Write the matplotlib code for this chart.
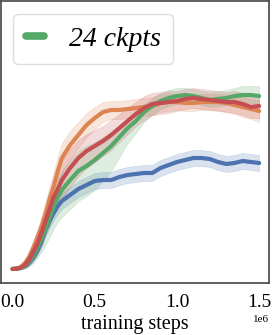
import matplotlib.pyplot as plt
import numpy as np

# training steps and mean return per run
steps = np.array([0, .025, .05, .075, .1, .125, .15, .175, .2, .225, .25, .275, .3,
                  .35, .4, .45, .5, .55, .6, .65, .7, .75, .8, .85, .9, .95,
                  1.0, 1.05, 1.1, 1.15, 1.2, 1.25, 1.3, 1.35, 1.4, 1.45, 1.5]) * 1e6

orange = [0, .005, .02, .06, .12, .21, .31, .42, .55, .70, .83, .98, 1.11,
          1.24, 1.34, 1.44, 1.51, 1.57, 1.59, 1.59, 1.60, 1.61, 1.62, 1.63, 1.66, 1.67,
          1.67, 1.66, 1.66, 1.67, 1.67, 1.67, 1.66, 1.64, 1.62, 1.60, 1.58]
red = [0, .003, .015, .04, .09, .17, .25, .36, .48, .60, .72, .80, .89,
       1.01, 1.11, 1.18, 1.23, 1.28, 1.34, 1.41, 1.48, 1.55, 1.61, 1.65, 1.66, 1.67,
       1.68, 1.70, 1.71, 1.70, 1.69, 1.68, 1.67, 1.67, 1.65, 1.62, 1.63]
green = [0, .002, .01, .03, .07, .13, .21, .30, .40, .51, .62, .72, .79,
         .89, .98, 1.03, 1.09, 1.16, 1.23, 1.32, 1.41, 1.48, 1.57, 1.63, 1.68, 1.71,
         1.73, 1.74, 1.73, 1.71, 1.69, 1.70, 1.71, 1.73, 1.74, 1.74, 1.73]
blue = [0, .002, .01, .025, .06, .11, .18, .27, .39, .48, .56, .63, .68,
        .74, .80, .84, .88, .89, .89, .92, .94, .95, .96, .96, 1.01, 1.04,
        1.07, 1.09, 1.11, 1.11, 1.10, 1.07, 1.05, 1.06, 1.08, 1.07, 1.06]

# spread of the shaded bands (below / above the mean)
orange_lo = [0, .005, .01, .02, .04, .06, .08, .10, .12, .13, .14, .15, .15,
             .14, .13, .12, .11, .10, .09, .09, .09, .09, .09, .09, .09, .09,
             .08, .08, .08, .08, .08, .08, .09, .09, .10, .10, .11]
orange_hi = orange_lo
red_lo = [0, .005, .01, .03, .05, .08, .10, .12, .14, .16, .17, .18, .19,
          .19, .18, .17, .16, .15, .15, .14, .13, .12, .12, .11, .11, .11,
          .10, .10, .10, .10, .10, .10, .10, .11, .11, .11, .12]
red_hi = red_lo
green_lo = [0, .005, .01, .02, .04, .07, .10, .13, .16, .19, .22, .25, .27,
            .29, .30, .30, .30, .28, .25, .20, .15, .12, .10, .09, .08, .08,
            .08, .07, .07, .07, .07, .07, .07, .07, .07, .08, .08]
green_hi = [0, .005, .01, .02, .04, .06, .08, .10, .12, .14, .16, .18, .19,
            .20, .20, .20, .18, .16, .14, .12, .10, .09, .08, .08, .08, .08,
            .08, .07, .07, .07, .08, .08, .08, .08, .09, .09, .10]
blue_lo = [0, .005, .01, .02, .03, .04, .05, .06, .06, .07, .07, .08, .08] + [.08] * 24
blue_hi = blue_lo

x_ticks = [0, 0.5e6, 1.0e6, 1.5e6]

plt.rcParams['font.family'] = ['Liberation Serif', 'DejaVu Serif']

fig = plt.figure(figsize=(2.72, 3.35), dpi=100)
ax = fig.add_axes([0.004, 52 / 335, 0.985, 282 / 335])

series = [
    (blue, blue_lo, blue_hi, '#4C72B0', None),
    (orange, orange_lo, orange_hi, '#DD8452', None),
    (green, green_lo, green_hi, '#55A868', '24 ckpts'),
    (red, red_lo, red_hi, '#C44E52', None),
]
for mean, lo, hi, col, lab in series:
    m = np.array(mean)
    ax.fill_between(steps, m - np.array(lo), m + np.array(hi), color=col, alpha=0.2, lw=0.5)
for mean, lo, hi, col, lab in series:
    ax.plot(steps, mean, color=col, lw=3, label=lab, solid_capstyle='round')

ax.set_xlim(-0.07e6, 1.56e6)
ax.set_ylim(-0.14, 2.68)
ax.set_xticks(x_ticks)
ax.set_yticks([])
ax.tick_params(axis='x', length=0, pad=8, labelsize=14)
ax.xaxis.get_offset_text().set_fontsize(8)
ax.set_xlabel('training steps', fontsize=14.5, labelpad=3)
for s in ax.spines.values():
    s.set_color('#444444')
    s.set_linewidth(1.2)

leg = ax.legend(loc='upper left', bbox_to_anchor=(0.045, 0.955), fontsize=20,
                handlelength=0.65, handletextpad=0.9, borderpad=0.45, borderaxespad=0,
                fancybox=True, edgecolor='#dddddd', framealpha=1)
leg.get_lines()[0].set_linewidth(5.5)
for t in leg.get_texts():
    t.set_fontstyle('italic')

fig.savefig('out.png', dpi=100)
